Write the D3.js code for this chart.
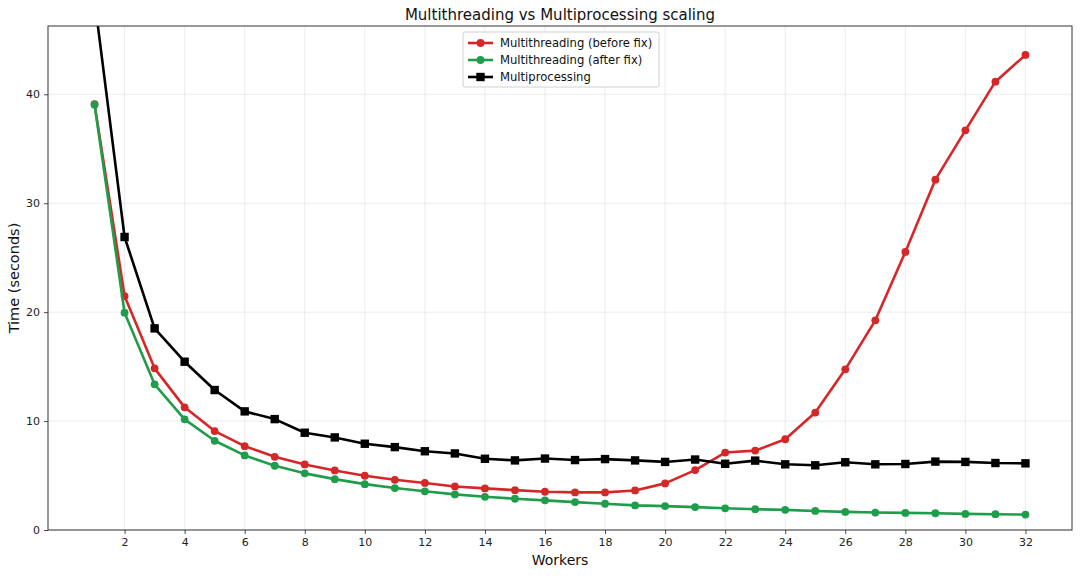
<!DOCTYPE html>
<html><head><meta charset="utf-8">
<script src="https://cdn.jsdelivr.net/npm/d3@7"></script>
<style>body{margin:0;background:#fff}svg{display:block;font-family:"DejaVu Sans",sans-serif}</style>
</head><body><svg id="c" width="1080" height="576"></svg>
<script>
const workers = d3.range(1, 33);
const mtBefore = [39.1,21.48,14.84,11.26,9.08,7.7,6.72,6.02,5.47,4.98,4.61,4.32,4.0,3.82,3.66,3.51,3.45,3.45,3.63,4.28,5.5,7.11,7.29,8.33,10.78,14.75,19.25,25.52,32.16,36.69,41.16,43.61];
const mtAfter = [39.05,19.95,13.37,10.16,8.19,6.85,5.9,5.2,4.67,4.21,3.85,3.55,3.27,3.05,2.87,2.72,2.56,2.41,2.26,2.19,2.1,1.99,1.91,1.85,1.75,1.66,1.6,1.57,1.54,1.48,1.45,1.42];
const mp = [48.7,26.9,18.51,15.45,12.85,10.89,10.18,8.93,8.5,7.92,7.61,7.23,7.03,6.54,6.39,6.56,6.42,6.51,6.39,6.25,6.47,6.08,6.37,6.03,5.94,6.22,6.03,6.06,6.28,6.25,6.15,6.12];
const xTicks = d3.range(2, 33, 2);
const yTicks = [0, 10, 20, 30, 40];
const seriesNames = ["Multithreading (before fix)", "Multithreading (after fix)", "Multiprocessing"];

const svg = d3.select("#c");
const L = 48, R = 1072, T = 26, B = 530;
const x = d3.scaleLinear().domain([-0.55, 33.55]).range([L, R]);
const y = d3.scaleLinear().domain([0, 46.27]).range([B, T]);

// grid
const g = svg.append("g");
g.selectAll(".gx").data(xTicks).enter().append("line")
  .attr("x1", d => x(d)).attr("x2", d => x(d)).attr("y1", T).attr("y2", B)
  .attr("stroke", "#b0b0b0").attr("stroke-opacity", 0.3).attr("stroke-width", 0.8);
g.selectAll(".gy").data(yTicks).enter().append("line")
  .attr("y1", d => y(d)).attr("y2", d => y(d)).attr("x1", L).attr("x2", R)
  .attr("stroke", "#b0b0b0").attr("stroke-opacity", 0.3).attr("stroke-width", 0.8);

// clip
svg.append("clipPath").attr("id", "clip").append("rect")
  .attr("x", L).attr("y", T).attr("width", R - L).attr("height", B - T);

const data = [
  {name: seriesNames[0], vals: mtBefore, color: "#d62728", marker: "circle"},
  {name: seriesNames[1], vals: mtAfter, color: "#1f9d4a", marker: "circle"},
  {name: seriesNames[2], vals: mp, color: "#000000", marker: "square"}
];
const line = d3.line().x((d, i) => x(workers[i])).y(d => y(d));
const plot = svg.append("g").attr("clip-path", "url(#clip)");
data.forEach(s => {
  plot.append("path").attr("d", line(s.vals)).attr("fill", "none")
    .attr("stroke", s.color).attr("stroke-width", 2.6).attr("stroke-linejoin", "round");
  if (s.marker === "circle") {
    plot.selectAll(null).data(s.vals).enter().append("circle")
      .attr("cx", (d, i) => x(workers[i])).attr("cy", d => y(d)).attr("r", 3.9)
      .attr("fill", s.color);
  } else {
    plot.selectAll(null).data(s.vals).enter().append("rect")
      .attr("x", (d, i) => x(workers[i]) - 4.2).attr("y", d => y(d) - 4.2)
      .attr("width", 8.4).attr("height", 8.4).attr("fill", s.color);
  }
});

// axes
const xAxis = d3.axisBottom(x).tickValues(xTicks).tickSize(4).tickPadding(4);
const yAxis = d3.axisLeft(y).tickValues(yTicks).tickSize(4).tickPadding(4);
const gx = svg.append("g").attr("transform", `translate(0,${B})`).call(xAxis);
const gy = svg.append("g").attr("transform", `translate(${L},0)`).call(yAxis);
[gx, gy].forEach(a => {
  a.select(".domain").remove();
  a.selectAll("text").attr("font-size", 11).attr("fill", "#222").attr("font-family", "DejaVu Sans");
  a.selectAll("line").attr("stroke", "#333").attr("stroke-width", 0.9);
});
svg.append("rect").attr("x", L).attr("y", T).attr("width", R - L).attr("height", B - T)
  .attr("fill", "none").attr("stroke", "#333").attr("stroke-width", 1);

// labels
svg.append("text").attr("x", (L + R) / 2).attr("y", 20).attr("text-anchor", "middle")
  .attr("font-size", 15).attr("fill", "#111").text("Multithreading vs Multiprocessing scaling");
svg.append("text").attr("x", (L + R) / 2).attr("y", 565).attr("text-anchor", "middle")
  .attr("font-size", 14).attr("fill", "#111").text("Workers");
svg.append("text").attr("transform", `translate(18.5,${(T + B) / 2}) rotate(-90)`).attr("text-anchor", "middle")
  .attr("font-size", 14.5).attr("fill", "#111").text("Time (seconds)");

// legend
const lg = svg.append("g").attr("transform", "translate(463,32)");
lg.append("rect").attr("x", 0).attr("y", 0).attr("width", 196).attr("height", 55).attr("rx", 2)
  .attr("fill", "#fff").attr("fill-opacity", 0.85).attr("stroke", "#d0d0d0");
data.forEach((s, i) => {
  const yy = 11 + i * 17;
  lg.append("line").attr("x1", 5).attr("x2", 30).attr("y1", yy).attr("y2", yy)
    .attr("stroke", s.color).attr("stroke-width", 2.6);
  if (s.marker === "circle") lg.append("circle").attr("cx", 17.5).attr("cy", yy).attr("r", 3.9).attr("fill", s.color);
  else lg.append("rect").attr("x", 13.3).attr("y", yy - 4.2).attr("width", 8.4).attr("height", 8.4).attr("fill", s.color);
  lg.append("text").attr("x", 37).attr("y", yy + 4).attr("font-size", 11.6).attr("fill", "#111").text(s.name);
});
</script></body></html>
